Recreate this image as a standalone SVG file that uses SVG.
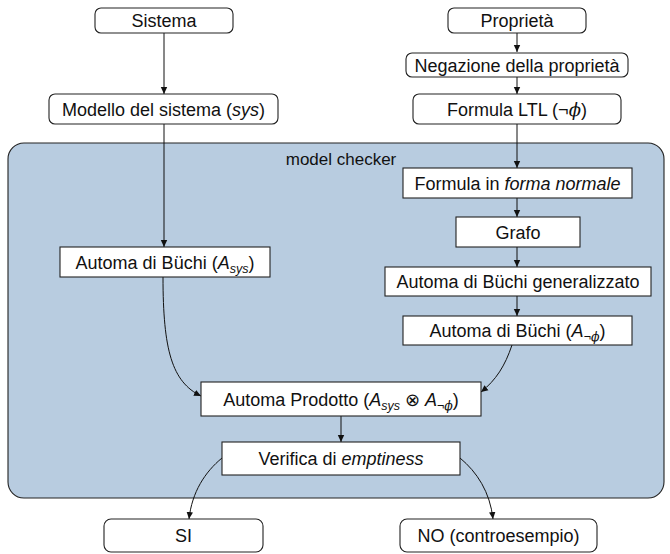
<svg xmlns="http://www.w3.org/2000/svg" width="670" height="554" viewBox="0 0 670 554">
<defs>
<marker id="arr" markerWidth="8" markerHeight="8" refX="7" refY="4" orient="auto" markerUnits="userSpaceOnUse">
<path d="M0,0.8 L7,4 L0,7.2 Z" fill="#111"/>
</marker>
<style>
.t{font-family:"Liberation Sans",Arial,sans-serif;font-size:18px;fill:#111;text-anchor:middle}
.mc{font-size:17px}
.i{font-style:italic}
.m{font-family:"DejaVu Serif","Liberation Serif",serif;font-style:italic}
.sub{font-size:12.5px;font-style:italic}
.rb{fill:#fff;stroke:#222;stroke-width:1.1}
.sb{fill:#fff;stroke:#222;stroke-width:1.1}
.e{fill:none;stroke:#111;stroke-width:1;marker-end:url(#arr)}
</style>
</defs>
<rect id="modelchecker" x="8" y="143" width="656" height="355" rx="16" ry="16" fill="#b8cce0" stroke="#222" stroke-width="1.1"/>
<text class="t mc" x="341" y="165">model checker</text>

<g id="connectors">
<path class="e" d="M164,33 L164,94"/>
<path class="e" d="M164,124 L164,247"/>
<path class="e" d="M517,33 L517,52"/>
<path class="e" d="M517,77 L517,94"/>
<path class="e" d="M517,124 L517,168"/>
<path class="e" d="M517,198 L517,217"/>
<path class="e" d="M517,247 L517,267"/>
<path class="e" d="M517,296 L517,316"/>
<path class="e" d="M163,277 C163,350 172,382 201,396"/>
<path class="e" d="M512,345 C505,366 496,380 481,392"/>
<path class="e" d="M341,416 L341,442"/>
<path class="e" d="M222,458 C205,472 192,492 189,519"/>
<path class="e" d="M460,458 C477,472 490,492 493,519"/>
</g>

<g id="sistema"><rect class="rb" x="95" y="8" width="138" height="25" rx="6"/><text class="t" x="164" y="27">Sistema</text></g>
<g id="proprieta"><rect class="rb" x="448" y="8" width="138" height="25" rx="6"/><text class="t" x="517" y="27">Proprietà</text></g>
<g id="negazione"><rect class="rb" x="406" y="53" width="222" height="24" rx="6"/><text class="t" x="517" y="71.5">Negazione della proprietà</text></g>
<g id="modello"><rect class="rb" x="49" y="94" width="229" height="30" rx="6"/><text class="t" x="163.5" y="115.5">Modello del sistema (<tspan class="i">sys</tspan>)</text></g>
<g id="ltl"><rect class="rb" x="413" y="94" width="208" height="30" rx="6"/><text class="t" x="517" y="115.5">Formula LTL (¬<tspan class="m">ϕ</tspan>)</text></g>
<g id="formanormale"><rect class="sb" x="403" y="168" width="229" height="30"/><text class="t" x="517.5" y="189.5">Formula in <tspan class="i">forma normale</tspan></text></g>
<g id="grafo"><rect class="sb" x="456" y="217" width="124" height="30"/><text class="t" x="518" y="238.5">Grafo</text></g>
<g id="generalizzato"><rect class="sb" x="385" y="267" width="266" height="29"/><text class="t" x="518" y="288">Automa di Büchi generalizzato</text></g>
<g id="buchineg"><rect class="sb" x="403" y="316" width="229" height="29"/><text class="t" x="517.5" y="337">Automa di Büchi (<tspan class="i">A</tspan><tspan class="sub" dy="4">¬</tspan><tspan class="sub m">ϕ</tspan><tspan dy="-4">)</tspan></text></g>
<g id="buchisys"><rect class="sb" x="60" y="247" width="210" height="30"/><text class="t" x="165" y="268.5">Automa di Büchi (<tspan class="i">A</tspan><tspan class="sub" dy="4">sys</tspan><tspan dy="-4">)</tspan></text></g>
<g id="prodotto"><rect class="sb" x="201" y="382" width="280" height="34"/><text class="t" x="341" y="405.5">Automa Prodotto (<tspan class="i">A</tspan><tspan class="sub" dy="4">sys</tspan><tspan dy="-4"> ⊗ </tspan><tspan class="i">A</tspan><tspan class="sub" dy="4">¬</tspan><tspan class="sub m">ϕ</tspan><tspan dy="-4">)</tspan></text></g>
<g id="verifica"><rect class="sb" x="222" y="442" width="238" height="33"/><text class="t" x="341" y="464.5">Verifica di <tspan class="i">emptiness</tspan></text></g>
<g id="si"><rect class="rb" x="104" y="519" width="159" height="33" rx="7"/><text class="t" x="183.5" y="541.5">SI</text></g>
<g id="no"><rect class="rb" x="400" y="519" width="197" height="33" rx="7"/><text class="t" x="498.5" y="541.5">NO (controesempio)</text></g>
</svg>
